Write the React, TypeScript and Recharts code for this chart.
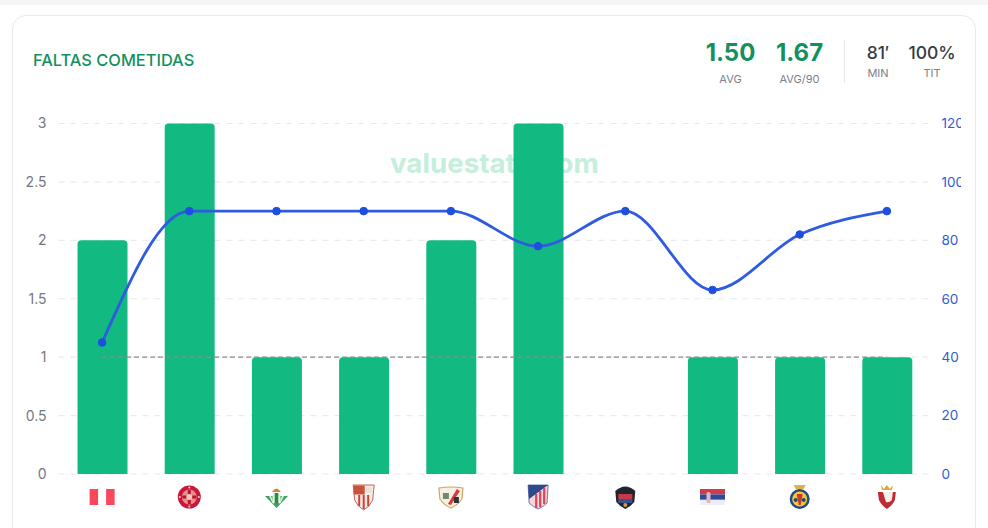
import React from "react";
import { ComposedChart, Bar, Line, XAxis, YAxis, CartesianGrid } from "recharts";

const opponents = ["PER", "GIR", "BET", "SEV", "RAY", "ATM", "LEV", "SRB", "VIL", "OSA"];
const fouls = [2, 3, 1, 1, 2, 3, 0, 1, 1, 1];
const minutes = [45, 90, 90, 90, 90, 78, 90, 63, 82, 90];
const reference = [1, 1, 1, 1, 1, 1, 1, 1, 1, 1];
const leftTicks = [0, 0.5, 1, 1.5, 2, 2.5, 3];
const rightTicks = [0, 20, 40, 60, 80, 100, 120];
const data = opponents.map((name, i) => ({ name, fouls: fouls[i], minutes: minutes[i], reference: reference[i] }));

const FONT = "Inter, 'Noto Sans', sans-serif";

function Crest({ name }: { name: string }) {
  switch (name) {
    case "PER":
      return <g><rect x={-12.5} y={-8} width={25} height={16} fill="#fff" /><rect x={-12.5} y={-8} width={8.5} height={16} fill="#f9485c" /><rect x={4} y={-8} width={8.5} height={16} fill="#f9485c" /></g>;
    case "GIR":
      return <g><circle r={11.5} fill="#c8173a" /><circle r={7.5} fill="#e58f90" /><path d="M-7,-1.5 H7 V1.5 H-7 Z M-1.5,-7 H1.5 V7 H-1.5 Z" fill="#b8142f" /><circle r={3} fill="#f2c9b8" /><circle cx={0} cy={-9.5} r={1} fill="#f6d8d0" /><circle cx={0} cy={9.5} r={1} fill="#f6d8d0" /><circle cx={-9.5} cy={0} r={1} fill="#f6d8d0" /><circle cx={9.5} cy={0} r={1} fill="#f6d8d0" /></g>;
    case "BET":
      return <g><path d="M-11.5,-1 L11.5,-1 L0,11 Z" fill="#37a45c" /><path d="M-7.5,-1 L-5.5,-1 L-2.5,7 L-4,6 Z M5.5,-1 L7.5,-1 L4,6 L2.5,7 Z" fill="#e6f3e2" /><rect x={-4} y={-4} width={8} height={10} rx={1} fill="#e6f3e2" /><rect x={-1.8} y={-4} width={3.6} height={10} fill="#2f8a4a" /><path d="M-4.5,-5 Q0,-12 4.5,-5 Z" fill="#d8862d" /></g>;
    case "SEV":
      return <g><path d="M-10.5,-12 L10.5,-12 L9,3 Q6,10 0,13 Q-6,10 -9,3 Z" fill="#f6ece6" stroke="#b2403a" strokeWidth={0.8} /><rect x={-10} y={-11.5} width={11} height={9} fill="#c8523c" /><circle cx={5} cy={-7} r={3} fill="#eadfd6" /><rect x={-5.5} y={-2} width={2} height={11} fill="#c9443a" /><rect x={-1} y={-2} width={2} height={14} fill="#c9443a" /><rect x={3.5} y={-2} width={2} height={11} fill="#c9443a" /></g>;
    case "RAY":
      return <g><path d="M-12,-9 Q0,-11 12,-9 L11,2 Q6,9 0,11 Q-6,9 -11,2 Z" fill="#f6efe2" stroke="#c9a85c" strokeWidth={1.2} /><path d="M6,-8 L-3,7 L0,8 L9,-6 Z" fill="#d73a3a" /><rect x={-8} y={-4} width={6} height={6} fill="#6d8a6a" /><rect x={3} y={0} width={5} height={6} fill="#333" /></g>;
    case "ATM":
      return <g><path d="M-10,-12 L10,-12 L9,6 Q5,10 0,12 Q-5,10 -9,6 Z" fill="#f2d6da" stroke="#4a5c9a" strokeWidth={0.8} /><path d="M-10,-12 L10,-12 L-9,2 Z" fill="#2f4a8c" /><rect x={-3} y={-3} width={2.2} height={14} fill="#d8455a" /><rect x={1} y={-6} width={2.2} height={16} fill="#d8455a" /><rect x={5} y={-9} width={2.2} height={16} fill="#d8455a" /></g>;
    case "LEV":
      return <g><path d="M-10,-6 Q0,-15 10,-6 L9,5 Q5,10 0,12 Q-5,10 -9,5 Z" fill="#1f2430" /><rect x={-7} y={-3} width={14} height={5} fill="#c43b48" /><rect x={-7} y={2} width={14} height={4} fill="#3a4f8f" /><circle cy={8} r={2} fill="#c8a23a" /></g>;
    case "SRB":
      return <g><rect x={-12.5} y={-8} width={25} height={5.4} fill="#d23c4a" /><rect x={-12.5} y={-2.6} width={25} height={5.4} fill="#2f4a9a" /><rect x={-12.5} y={2.8} width={25} height={5.2} fill="#eceef6" /><rect x={-6} y={-5} width={4} height={11} rx={1.5} fill="#e8b5b8" /></g>;
    case "VIL":
      return <g><circle cy={2} r={10} fill="#1f4a8a" /><circle cy={2} r={7.5} fill="#f5c92e" /><path d="M-3,-3 L3,-3 L1,8 L-1,8 Z" fill="#c8392e" /><circle cx={-4} cy={3} r={2} fill="#1f4a8a" /><circle cx={4} cy={3} r={2} fill="#1f4a8a" /><path d="M-6,-12 L6,-12 L4,-8 L-4,-8 Z" fill="#e0b04a" /></g>;
    default:
      return <g><path d="M-9,-5 L9,-5 L8,3 Q5,9 0,12 Q-5,9 -8,3 Z" fill="#bf2b34" /><path d="M-4,-5 L6,-5 L5,3 Q2,6 -1,5 Z" fill="#f6f0ea" /><path d="M-6,-12 L-3,-8 L0,-12 L3,-8 L6,-12 L5,-7 L-5,-7 Z" fill="#d8a83a" /></g>;
  }
}

function CrestTick(props: any) {
  const { x, y, payload } = props;
  return (
    <g transform={`translate(${x},${y + 15})`}>
      <title>{payload.value}</title>
      <Crest name={payload.value} />
    </g>
  );
}

function Stat({ value, label, color, big, width }: { value: string; label: string; color: string; big?: boolean; width: number }) {
  return (
    <div style={{ width, textAlign: "center" }}>
      <div style={{ fontSize: big ? 24 : 17.5, fontWeight: big ? 700 : 500, color, lineHeight: big ? "28px" : "22px", fontFamily: FONT }}>{value}</div>
      <div style={{ fontSize: 11, color: "#7b8089", marginTop: big ? 5 : 2, lineHeight: "14px", fontFamily: FONT }}>{label}</div>
    </div>
  );
}

export default function App() {
  return (
    <div style={{ position: "fixed", left: 0, top: 0, width: 988, height: 528, overflow: "hidden", background: "#fff", fontFamily: FONT }}>
      <div style={{ position: "absolute", left: 0, top: 0, width: 988, height: 5, background: "#f6f6f7" }} />
      <div style={{ position: "absolute", left: 12, top: 15, width: 964, height: 560, boxSizing: "border-box", border: "1px solid #e8e9eb", borderRadius: 14, background: "#fff" }} />
      <div style={{ position: "absolute", left: 33, top: 50, fontSize: 16.4, fontWeight: 500, color: "#14905f", lineHeight: "20px" }}>FALTAS COMETIDAS</div>
      <div style={{ position: "absolute", left: 390, top: 148, width: 208, textAlign: "center", fontSize: 27.7, fontWeight: 700, color: "#c5eedd", lineHeight: "30px", whiteSpace: "nowrap" }}>valuestats.com</div>
      <div style={{ position: "absolute", left: 700, top: 39, display: "flex" }}>
        <Stat value="1.50" label="AVG" color="#14905f" big width={61} />
        <Stat value="1.67" label="AVG/90" color="#14905f" big width={77} />
      </div>
      <div style={{ position: "absolute", left: 844, top: 40, width: 1, height: 43, background: "#e6e7ea" }} />
      <div style={{ position: "absolute", left: 857, top: 42, display: "flex" }}>
        <Stat value="81′" label="MIN" color="#343a46" width={42} />
        <Stat value="100%" label="TIT" color="#343a46" width={66} />
      </div>
      <div style={{ position: "absolute", left: 12, top: 110 }}>
        <ComposedChart
          width={949}
          height={418}
          data={data}
          barCategoryGap="0%"
          margin={{ top: 13.5, right: 0, bottom: 0, left: 0 }}
        >
          <CartesianGrid yAxisId="left" vertical={false} stroke="#e9eaec" strokeDasharray="6 6" strokeWidth={1.2} />
          <XAxis dataKey="name" interval={0} axisLine={false} tickLine={false} tick={<CrestTick />} height={54} />
          <YAxis
            yAxisId="left"
            domain={[0, 3]}
            ticks={leftTicks}
            axisLine={false}
            tickLine={false}
            width={46.5}
            tick={{ fill: "#74787f", fontSize: 14 }}
            tickMargin={6}
          />
          <YAxis
            yAxisId="right"
            orientation="right"
            domain={[0, 120]}
            ticks={rightTicks}
            axisLine={false}
            tickLine={false}
            width={30.5}
            tick={{ fill: "#2f5bd8", fontSize: 13.5 }}
            tickMargin={5}
          />
          <Bar yAxisId="left" dataKey="fouls" fill="#12b981" barSize={50} radius={[4, 4, 0, 0]} isAnimationActive={false} />
          <Line yAxisId="left" type="linear" dataKey="reference" stroke="#8f8a90" strokeWidth={1.3} strokeDasharray="5 3" dot={false} isAnimationActive={false} />
          <Line yAxisId="right" type="monotone" dataKey="minutes" stroke="#2f5be0" strokeWidth={2.8} dot={{ r: 3.8, fill: "#1f4fe0", stroke: "#1f4fe0", strokeWidth: 1 }} isAnimationActive={false} />
        </ComposedChart>
      </div>
    </div>
  );
}
